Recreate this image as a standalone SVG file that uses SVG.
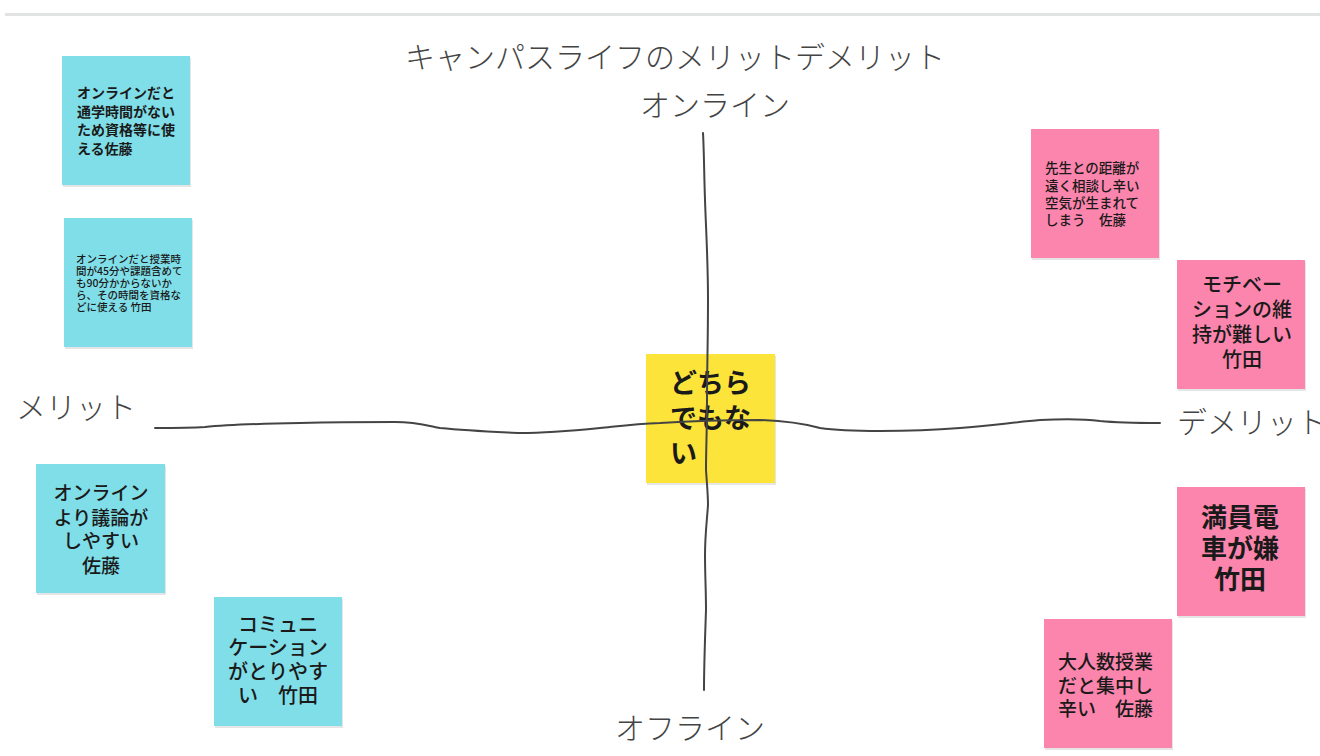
<svg xmlns="http://www.w3.org/2000/svg" width="1320" height="756" viewBox="0 0 1320 756">
<defs>
<style>
.bg{fill:#ffffff}
.note{stroke:none}
.cyan{fill:#80dee8}
.pink{fill:#fc85ad}
.yellow{fill:#fde43a}
.shadow{fill:#000;opacity:0.10}
text{font-family:"Noto Sans CJK JP","Noto Sans",sans-serif;fill:#1a1a1a}
.lbl{font-size:30px;font-weight:300;fill:#444}
.b{font-weight:700}
.m{font-weight:500}
.c{text-anchor:middle}
.axis{fill:none;stroke:#444;stroke-width:2;stroke-linecap:round;stroke-linejoin:round}
</style>
</defs>
<rect class="bg" x="0" y="0" width="1320" height="756"/>
<rect x="5" y="13" width="1315" height="3" fill="#e2e4e4"/>

<g id="labels">
<text class="lbl c" x="675" y="68">キャンパスライフのメリットデメリット</text>
<text class="lbl c" x="715" y="116">オンライン</text>
<text class="lbl c" x="76" y="418">メリット</text>
<text class="lbl" x="1177" y="433">デメリット</text>
<text class="lbl c" x="690" y="739">オフライン</text>
</g>

<g id="note-online-time">
<rect class="shadow" x="63" y="58" width="128" height="129"/>
<rect class="note cyan" x="62" y="56" width="128" height="129"/>
<text class="b" font-size="14" x="77" y="98">オンラインだと</text>
<text class="b" font-size="14" x="77" y="116.5">通学時間がない</text>
<text class="b" font-size="14" x="77" y="135">ため資格等に使</text>
<text class="b" font-size="14" x="77" y="153.5">える佐藤</text>
</g>

<g id="note-online-class">
<rect class="shadow" x="65" y="220" width="128" height="129"/>
<rect class="note cyan" x="64" y="218" width="128" height="129"/>
<text class="m" font-size="10.5" x="76" y="263">オンラインだと授業時</text>
<text class="m" font-size="10.5" x="76" y="275">間が45分や課題含めて</text>
<text class="m" font-size="10.5" x="76" y="287">も90分かからないか</text>
<text class="m" font-size="10.5" x="76" y="298.5">ら、その時間を資格な</text>
<text class="m" font-size="10.5" x="76" y="310.5">どに使える 竹田</text>
</g>

<g id="note-teacher-distance">
<rect class="shadow" x="1032" y="131" width="128" height="129"/>
<rect class="note pink" x="1031" y="129" width="128" height="129"/>
<text class="m" font-size="13.5" x="1045" y="173">先生との距離が</text>
<text class="m" font-size="13.5" x="1045" y="191">遠く相談し辛い</text>
<text class="m" font-size="13.5" x="1045" y="208">空気が生まれて</text>
<text class="m" font-size="13.5" x="1045" y="225">しまう　佐藤</text>
</g>

<g id="note-motivation">
<rect class="shadow" x="1178" y="262" width="128" height="129"/>
<rect class="note pink" x="1177" y="260" width="128" height="129"/>
<text class="m c" font-size="20" x="1242" y="292">モチベー</text>
<text class="m c" font-size="20" x="1242" y="317">ションの維</text>
<text class="m c" font-size="20" x="1242" y="342">持が難しい</text>
<text class="m c" font-size="20" x="1242" y="367">竹田</text>
</g>

<g id="note-neither">
<rect class="shadow" x="647" y="356" width="129" height="129"/>
<rect class="note yellow" x="646" y="354" width="129" height="129"/>
<text class="b" font-size="27" x="670" y="392.5">どちら</text>
<text class="b" font-size="27" x="670" y="427.5">でもな</text>
<text class="b" font-size="27" x="670" y="462.5">い</text>
</g>

<g id="note-discussion">
<rect class="shadow" x="37" y="466" width="129" height="129"/>
<rect class="note cyan" x="36" y="464" width="129" height="129"/>
<text class="m c" font-size="19" x="101" y="500">オンライン</text>
<text class="m c" font-size="19" x="101" y="525">より議論が</text>
<text class="m c" font-size="19" x="101" y="548">しやすい</text>
<text class="m c" font-size="19" x="101" y="573">佐藤</text>
</g>

<g id="note-communication">
<rect class="shadow" x="215" y="599" width="128" height="129"/>
<rect class="note cyan" x="214" y="597" width="128" height="129"/>
<text class="m c" font-size="20" x="278" y="632">コミュニ</text>
<text class="m c" font-size="20" x="278" y="655">ケーション</text>
<text class="m c" font-size="20" x="278" y="679">がとりやす</text>
<text class="m c" font-size="20" x="278" y="703">い　竹田</text>
</g>

<g id="note-crowded-train">
<rect class="shadow" x="1178" y="489" width="128" height="129"/>
<rect class="note pink" x="1177" y="487" width="128" height="129"/>
<text class="b c" font-size="26" x="1240" y="527">満員電</text>
<text class="b c" font-size="26" x="1240" y="558">車が嫌</text>
<text class="b c" font-size="26" x="1240" y="589">竹田</text>
</g>

<g id="note-large-class">
<rect class="shadow" x="1045" y="621" width="128" height="129"/>
<rect class="note pink" x="1044" y="619" width="128" height="129"/>
<text class="m" font-size="19" x="1058" y="669">大人数授業</text>
<text class="m" font-size="19" x="1058" y="693">だと集中し</text>
<text class="m" font-size="19" x="1058" y="716">辛い　佐藤</text>
</g>

<g id="connectors">
<path class="axis" d="M155,428 C175,428 190,428 205,427 C225,425 245,424 300,423 C340,422 370,422 395,422 C415,422 425,425 440,428 C470,431 500,432 520,433 C545,433 570,431 600,428 C620,426 635,424 660,423 C690,421 730,420 760,420 C790,421 805,424 820,428 C840,431 860,431 880,431 C910,431 935,430 960,428 C990,426 1015,422 1040,420 C1060,419 1085,419 1100,421 C1120,423 1140,423 1160,423"/>
<path class="axis" d="M703,133 C704,150 704,170 705,200 C706,230 708,260 708,300 C708,340 707,370 707,400 C707,430 706,450 706,470 C707,485 708,495 708,505 C707,520 705,535 705,555 C705,575 706,590 706,610 C705,640 704,665 704,690"/>
</g>
</svg>
